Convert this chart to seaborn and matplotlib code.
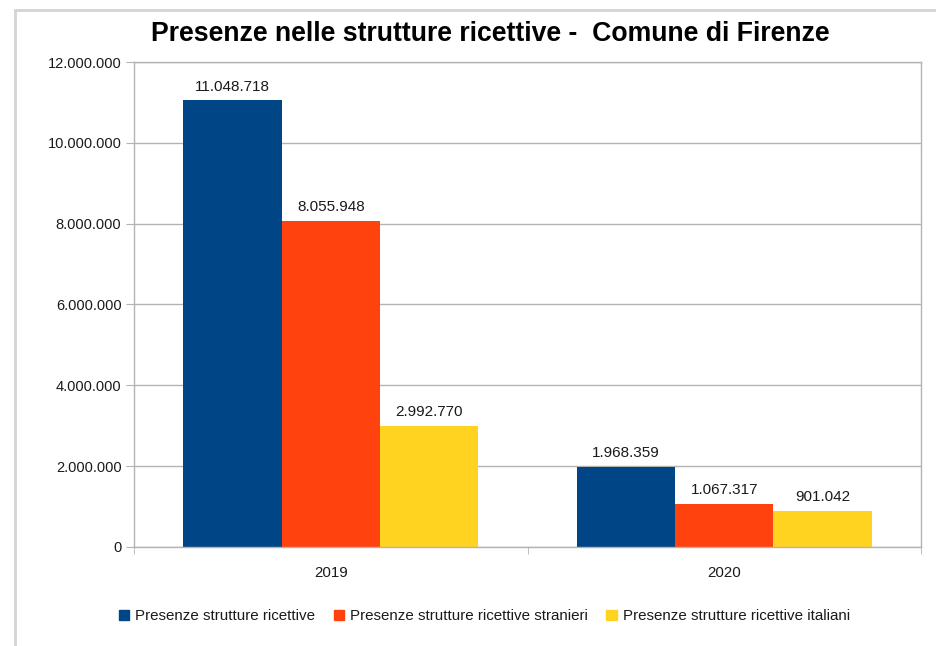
import pandas as pd
import matplotlib.pyplot as plt
import matplotlib.ticker as mticker
from matplotlib.patches import Rectangle
import seaborn as sns

anni = ["2019", "2020"]
serie = ["Presenze strutture ricettive",
         "Presenze strutture ricettive stranieri",
         "Presenze strutture ricettive italiani"]
totali = [11048718, 1968359]
stranieri = [8055948, 1067317]
italiani = [2992770, 901042]
colori = ["#004586", "#ff420e", "#ffd320"]

df = pd.DataFrame({
    "Anno": anni * 3,
    "Serie": [serie[0]] * 2 + [serie[1]] * 2 + [serie[2]] * 2,
    "Valore": totali + stranieri + italiani,
})

def fmt(v):
    return f"{int(v):,}".replace(",", ".")

sns.set_style("white")
plt.rcParams["font.family"] = ["Liberation Sans", "DejaVu Sans"]

fig = plt.figure(figsize=(9.37, 6.46), dpi=100)
ax = fig.add_axes([0.143, 0.1533, 0.840, 0.7507])

sns.barplot(data=df, x="Anno", y="Valore", hue="Serie", palette=colori,
            width=0.75, gap=0, saturation=1, linewidth=0, ax=ax, legend=False)

for cont in ax.containers:
    ax.bar_label(cont, labels=[fmt(b.get_height()) for b in cont],
                 padding=5, fontsize=11, color="#1a1a1a")

ax.set_ylim(0, 12000000)
ax.set_xlim(-0.5, 1.5)
ax.yaxis.set_major_locator(mticker.MultipleLocator(2000000))
ax.yaxis.set_major_formatter(mticker.FuncFormatter(lambda v, p: fmt(v)))
ax.yaxis.grid(True, color="#b3b3b3", linewidth=1)
ax.set_axisbelow(True)
ax.set_xlabel("")
ax.set_ylabel("")
for s in ax.spines.values():
    s.set_color("#b3b3b3")
    s.set_linewidth(1)
ax.tick_params(axis="y", left=True, length=6, color="#b3b3b3",
               labelsize=10.5, labelcolor="#1a1a1a", pad=3)
ax.tick_params(axis="x", which="major", bottom=False, length=0,
               labelsize=10.8, labelcolor="#1a1a1a", pad=14)
ax.xaxis.set_minor_locator(mticker.FixedLocator([-0.5, 0.5, 1.5]))
ax.tick_params(axis="x", which="minor", bottom=True, length=5, color="#b3b3b3")

fig.suptitle("Presenze nelle strutture ricettive -  Comune di Firenze",
             x=0.523, y=0.967, fontsize=19.2, fontweight="bold", color="black")

handles = [plt.Rectangle((0, 0), 1, 1, color=c) for c in colori]
fig.legend(handles, serie, loc="center", bbox_to_anchor=(0.517, 0.046), ncol=3,
           frameon=False, fontsize=10.9, handlelength=0.7, handleheight=0.7,
           handletextpad=0.4, columnspacing=1.2, labelcolor="#1a1a1a")

fig.add_artist(Rectangle((0.016, -0.1), 1.1, 1.085, transform=fig.transFigure,
                         fill=False, edgecolor="#d4d4d4", linewidth=2))

fig.savefig("out.png", dpi=100)
